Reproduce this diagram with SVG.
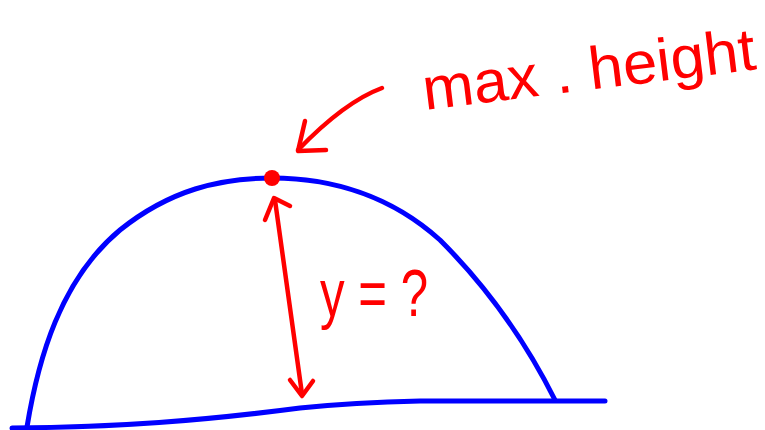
<svg xmlns="http://www.w3.org/2000/svg" width="765" height="430" viewBox="0 0 765 430">
<style>
.blue{fill:none;stroke:#0000ff;stroke-width:5;stroke-linecap:round;stroke-linejoin:round}
.red{fill:none;stroke:#ff0000;stroke-width:4.5;stroke-linecap:round;stroke-linejoin:round}
.lbl{fill:#ff0000;font-family:"Liberation Sans","DejaVu Sans",sans-serif;font-weight:normal}
</style>
<rect width="765" height="430" fill="#ffffff"/>
<g id="ground">
<path class="blue" d="M12,428 C120,427 200,421 300,408 C340,404 380,402 420,401 L605,401"/>
</g>
<g id="trajectory">
<path class="blue" d="M27,427 C38,360 60,280 120,230 C170,190 220,178 272,178 C330,178 390,195 440,240 C480,280 520,330 555,400"/>
</g>
<g id="peak">
<circle cx="272" cy="178" r="8" fill="#ff0000"/>
</g>
<g id="connectors">
<path class="red" d="M382,88 C355,98 325,122 298,150"/>
<path class="red" d="M305,121 L298,151 L326,150"/>
<path class="red" d="M275,200 L302,394"/>
<path class="red" d="M265,220 L274,198 L290,206"/>
<path class="red" d="M290,380 L302,396 L313,381"/>
</g>
<g id="label-max-height">
<text class="lbl" x="425" y="110" font-size="60" transform="rotate(-7 425 110)" textLength="335" lengthAdjust="spacingAndGlyphs">max . height</text>
</g>
<g id="label-y">
<text class="lbl" x="320" y="316" font-size="66" textLength="108" lengthAdjust="spacingAndGlyphs">y = ?</text>
</g>
</svg>
